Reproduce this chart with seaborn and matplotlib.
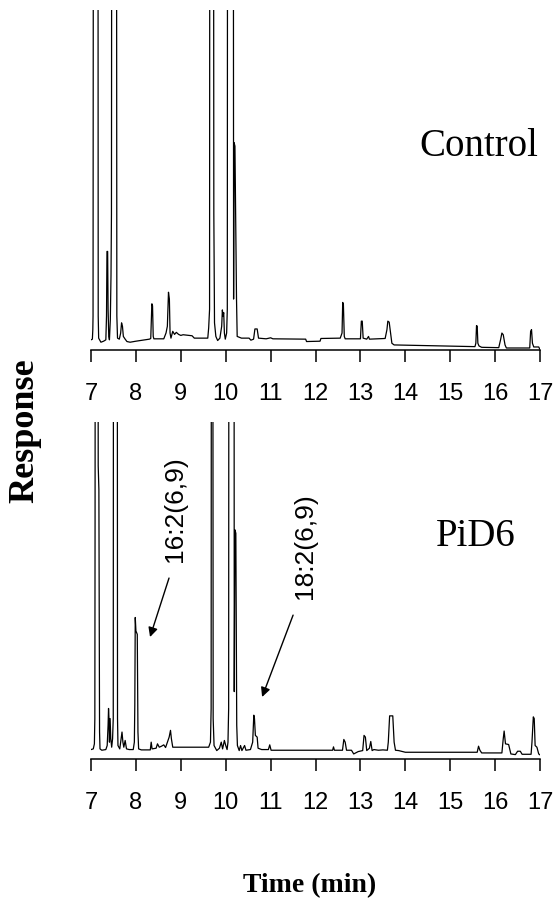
import matplotlib
matplotlib.use('Agg')
import matplotlib.pyplot as plt
import seaborn as sns

# ---------------- data ----------------
ctrl_time = [7.00, 7.03, 7.04, 7.045, 7.06, 7.15, 7.16, 7.17, 7.22, 7.28, 7.33, 7.345, 7.355,
             7.37, 7.38, 7.395, 7.41, 7.43, 7.445, 7.455, 7.47, 7.56, 7.575, 7.59, 7.63, 7.66,
             7.68, 7.70, 7.72, 7.76, 7.80, 7.87, 8.00, 8.30, 8.33, 8.345, 8.355, 8.37, 8.385,
             8.40, 8.62, 8.67, 8.70, 8.725, 8.745, 8.76, 8.78, 8.82, 8.86, 8.90, 8.95, 9.00,
             9.05, 9.25, 9.30, 9.60, 9.62, 9.64, 9.65, 9.72, 9.735, 9.75, 9.78, 9.82, 9.87,
             9.91, 9.925, 9.94, 9.955, 9.97, 9.99, 10.02, 10.035, 10.045, 10.165, 10.175,
             10.185, 10.205, 10.24, 10.255, 10.35, 10.52, 10.56, 10.62, 10.65, 10.70, 10.73,
             10.90, 11.00, 11.05, 11.78, 11.80, 12.10, 12.12, 12.55, 12.59, 12.605, 12.62,
             12.64, 12.66, 13.00, 13.02, 13.04, 13.06, 13.14, 13.18, 13.20, 13.55, 13.59,
             13.61, 13.64, 13.67, 13.70, 13.75, 14.50, 15.55, 15.57, 15.585, 15.60, 15.615,
             15.64, 15.70, 16.08, 16.12, 16.15, 16.18, 16.22, 16.25, 16.77, 16.79, 16.81,
             16.83, 16.86, 16.97, 17.00]
ctrl_resp = [3.0, 3.2, 6.0, 10, 300, 300, 10, 3.5, 2.3, 2.6, 3.0, 10, 29,
             29, 12, 4, 3, 9, 22, 40, 300, 300, 10, 3.5, 3.2, 5,
             8, 7, 4, 3.2, 2.5, 2.3, 2.6, 3.2, 3.4, 9, 13.6, 13, 4,
             3.3, 3.3, 5, 7, 17, 15, 5, 3.5, 5.5, 4.6, 5.2, 4.6, 4.3,
             4.5, 4.2, 3.5, 3.5, 6.5, 12, 300, 300, 40, 8, 4, 2.8, 3.5,
             7, 11.8, 10, 11, 5, 3.2, 5, 12, 300, 300, 15,
             61, 60, 15, 4, 3.5, 3.5, 2.9, 3.2, 6.2, 6.2, 3.5,
             3.3, 3.6, 3.3, 3.2, 2.5, 2.6, 3.4, 3.5, 5, 14, 13.5,
             4, 3.3, 3.3, 8.5, 8.5, 3.5, 3.2, 4, 3.2, 3.4, 6,
             8.5, 8.2, 5, 2.0, 1.5, 1.3, 1.0, 2, 7.2, 7, 2,
             1.2, 0.8, 0.7, 3, 5, 4.5, 1.5, 0.6, 0.6, 5.5, 6,
             2, 0.9, 0.9, 0.1]

pid_time = [7.00, 7.05, 7.075, 7.085, 7.09, 7.10, 7.15, 7.16, 7.175, 7.19, 7.20, 7.24, 7.33,
            7.36, 7.38, 7.39, 7.40, 7.41, 7.425, 7.44, 7.46, 7.48, 7.495, 7.505, 7.58, 7.59,
            7.60, 7.64, 7.67, 7.69, 7.71, 7.73, 7.76, 7.79, 7.85, 7.94, 7.965, 7.975, 7.985,
            8.00, 8.03, 8.045, 8.06, 8.12, 8.32, 8.34, 8.36, 8.45, 8.48, 8.52, 8.57, 8.62,
            8.66, 8.70, 8.74, 8.77, 8.79, 8.82, 9.62, 9.66, 9.675, 9.685, 9.705, 9.72, 9.74,
            9.80, 9.86, 9.90, 9.93, 9.97, 10.00, 10.03, 10.05, 10.065, 10.075, 10.18, 10.19,
            10.205, 10.225, 10.245, 10.26, 10.30, 10.33, 10.36, 10.42, 10.45, 10.55, 10.60,
            10.625, 10.64, 10.66, 10.70, 10.72, 10.80, 10.95, 10.98, 11.01, 12.38, 12.40,
            12.42, 12.60, 12.63, 12.66, 12.69, 12.80, 12.85, 12.95, 13.05, 13.08, 13.11,
            13.14, 13.20, 13.23, 13.26, 13.30, 13.40, 13.50, 13.60, 13.62, 13.65, 13.72,
            13.75, 13.78, 13.85, 14.00, 15.60, 15.63, 15.66, 15.70, 16.15, 16.18, 16.20,
            16.23, 16.30, 16.35, 16.45, 16.50, 16.56, 16.60, 16.80, 16.82, 16.85, 16.87,
            16.89, 16.93, 16.97, 17.00]
pid_resp = [2.8, 3.0, 4.5, 12, 70, 300, 300, 87, 80, 8, 3, 2.6, 2.8,
            4, 10, 15, 12, 5, 12, 6, 3.5, 6, 12, 300, 300, 12,
            4, 3, 6, 8, 5, 3.5, 5.5, 3, 2.8, 2.8, 5, 16, 42,
            38, 37, 8, 3, 2.7, 2.7, 5, 3, 3.2, 4.5, 3.5, 3.8, 4.2,
            3.4, 5, 6.5, 8.5, 6, 3.5, 3.5, 5, 15, 300, 300, 12, 4,
            2.5, 3.2, 5, 3, 5.5, 4, 2.8, 5, 15, 300, 300, 20,
            68, 67, 10, 4, 2.5, 4, 2.5, 4, 2.6, 2.8, 5,
            13, 12, 7, 6.5, 3.2, 2.8, 2.8, 4.2, 2.6, 2.6, 3.6,
            2.6, 2.6, 5.8, 5, 2.6, 2.6, 1.5, 2.2, 2.5, 7, 6.5,
            2.5, 3.2, 5.2, 2.5, 2.8, 2.6, 2.7, 2.6, 5, 12.8, 12.8,
            5, 2.6, 2.5, 2.0, 2.0, 3.8, 2.6, 1.8, 1.8, 6, 8.3,
            4.5, 4.3, 1.5, 1.3, 2.3, 2.3, 1.4, 1.4, 5, 12.5, 12,
            4, 3.5, 1.5, 1.2]

tick_values = [7, 8, 9, 10, 11, 12, 13, 14, 15, 16, 17]
tick_labels = ['7', '8', '9', '10', '11', '12', '13', '14', '15', '16', '17']
panel_names = ['Control', 'PiD6']
peak_labels = ['16:2(6,9)', '18:2(6,9)']
# annotation anchors (time, response): text centre, arrow tail, arrow head
peak_text_pos = [(8.87, 74.2), (11.77, 63.2)]
peak_arrow_tail = [(8.737, 53.7), (11.50, 42.7)]
peak_arrow_head = [(8.314, 36.2), (10.81, 18.4)]
panel_name_pos = [(15.64, 59.9), (15.57, 65.9)]
x_label = 'Time (min)'
y_label = 'Response'

# ---------------- drawing ----------------
sns.set_style('white')
tick_family = ['Liberation Sans Narrow', 'Liberation Sans', 'DejaVu Sans']
serif_family = ['Liberation Serif', 'DejaVu Serif']

fig = plt.figure(figsize=(5.53, 9.08), dpi=100, facecolor='white')
ax_top = fig.add_axes([0.1646, 0.6145, 0.812, 0.3744])
ax_bot = fig.add_axes([0.1646, 0.1641, 0.812, 0.3711])

series = [(ax_top, ctrl_time, ctrl_resp), (ax_bot, pid_time, pid_resp)]
for i, (ax, t, r) in enumerate(series):
    sns.lineplot(x=t, y=r, ax=ax, color='black', linewidth=0.9,
                 sort=False, estimator=None)
    ax.set_xlim(7, 17)
    ax.set_ylim(0, 100)
    ax.set_yticks([])
    ax.set_xlabel('')
    ax.set_ylabel('')
    for s in ['left', 'top', 'right']:
        ax.spines[s].set_visible(False)
    ax.spines['bottom'].set_linewidth(1.1)
    ax.spines['bottom'].set_color('black')
    ax.set_xticks(tick_values)
    ax.set_xticklabels(tick_labels, fontsize=17, family=tick_family)
    ax.tick_params(axis='x', direction='out', length=8.5, width=1.1,
                   pad=15, bottom=True, colors='black')
    ax.patch.set_alpha(0)
    px, py = panel_name_pos[i]
    ax.text(px, py, panel_names[i], family=serif_family, fontsize=28,
            ha='center', va='center', color='black')

for lab, tp, tail, head in zip(peak_labels, peak_text_pos, peak_arrow_tail, peak_arrow_head):
    ax_bot.annotate('', xy=head, xytext=tail,
                    arrowprops=dict(arrowstyle='-|>', color='black', lw=1.0,
                                    mutation_scale=14, shrinkA=0, shrinkB=0))
    ax_bot.text(tp[0], tp[1], lab, rotation=90, ha='center', va='center',
                fontsize=19, family=['Liberation Sans', 'DejaVu Sans'], color='black')

fig.text(25 / 553, 1 - 431 / 908, y_label, rotation=90, ha='center', va='center',
         family=serif_family, fontweight='bold', fontsize=26, color='black')
fig.text(310 / 553, 1 - 886 / 908, x_label, ha='center', va='center',
         family=serif_family, fontweight='bold', fontsize=20, color='black')

fig.savefig('out.png', dpi=100, facecolor='white')
